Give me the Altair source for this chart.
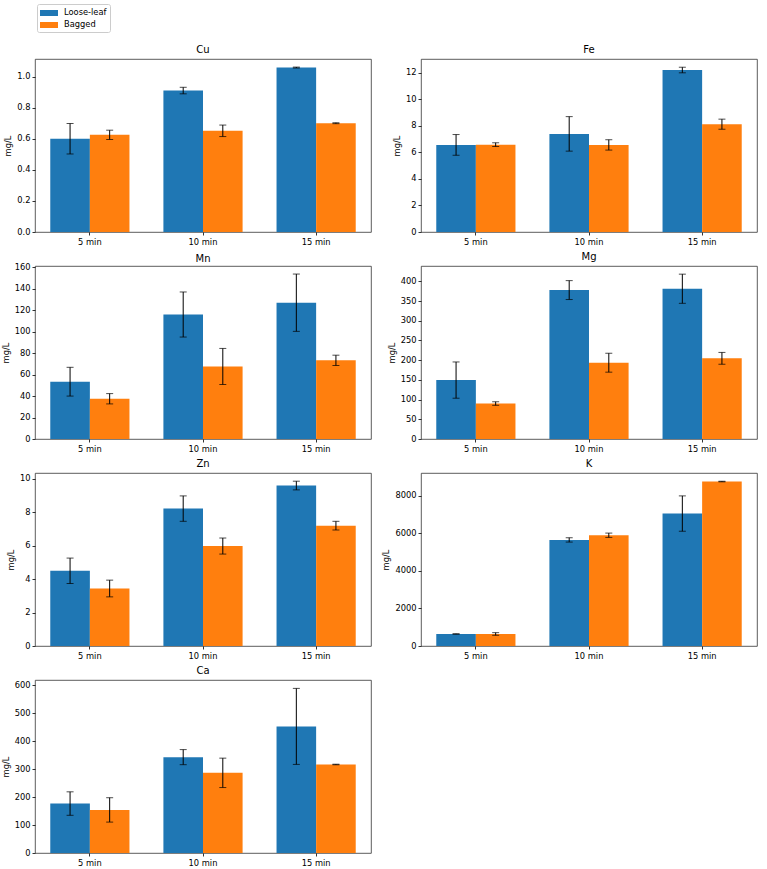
import altair as alt
import pandas as pd

# Steeping times on the x axis and the two tea formats
times = ["5 min", "10 min", "15 min"]
series = ["Loose-leaf", "Bagged"]
colors = ["#1f77b4", "#ff7f0e"]

# Mean concentrations (mg/L) and standard deviations, per element
cu_loose, cu_loose_sd = [0.60, 0.91, 1.058], [0.098, 0.021, 0.003]
cu_bag, cu_bag_sd = [0.625, 0.651, 0.700], [0.030, 0.037, 0.003]

fe_loose, fe_loose_sd = [6.56, 7.39, 12.20], [0.78, 1.30, 0.21]
fe_bag, fe_bag_sd = [6.58, 6.56, 8.12], [0.14, 0.39, 0.38]

mn_loose, mn_loose_sd = [53.4, 116.0, 127.0], [13.4, 21.0, 26.7]
mn_bag, mn_bag_sd = [37.5, 67.6, 73.3], [4.8, 16.8, 4.8]

mg_loose, mg_loose_sd = [149.5, 377.9, 381.3], [46.0, 24.0, 37.0]
mg_bag, mg_bag_sd = [90.0, 193.6, 204.7], [4.5, 24.0, 15.0]

zn_loose, zn_loose_sd = [4.50, 8.22, 9.60], [0.76, 0.76, 0.26]
zn_bag, zn_bag_sd = [3.44, 5.98, 7.20], [0.50, 0.48, 0.26]

k_loose, k_loose_sd = [640, 5641, 7042], [10, 115, 940]
k_bag, k_bag_sd = [640, 5889, 8745], [70, 115, 15]

ca_loose, ca_loose_sd = [176.9, 343.0, 453.0], [42.0, 27.0, 136.0]
ca_bag, ca_bag_sd = [154.2, 286.8, 316.7], [43.6, 52.6, 1.0]

# Panel name, data, y-axis upper limit, tick values, tick format
panels = [
    ("Cu", cu_loose, cu_loose_sd, cu_bag, cu_bag_sd, 1.113, [0, 0.2, 0.4, 0.6, 0.8, 1.0], ".1f"),
    ("Fe", fe_loose, fe_loose_sd, fe_bag, fe_bag_sd, 13.03, [0, 2, 4, 6, 8, 10, 12], "d"),
    ("Mn", mn_loose, mn_loose_sd, mn_bag, mn_bag_sd, 161.2, [0, 20, 40, 60, 80, 100, 120, 140, 160], "d"),
    ("Mg", mg_loose, mg_loose_sd, mg_bag, mg_bag_sd, 439.0, [0, 50, 100, 150, 200, 250, 300, 350, 400], "d"),
    ("Zn", zn_loose, zn_loose_sd, zn_bag, zn_bag_sd, 10.35, [0, 2, 4, 6, 8, 10], "d"),
    ("K", k_loose, k_loose_sd, k_bag, k_bag_sd, 9199, [0, 2000, 4000, 6000, 8000], "d"),
    ("Ca", ca_loose, ca_loose_sd, ca_bag, ca_bag_sd, 619.0, [0, 100, 200, 300, 400, 500, 600], "d"),
]

W, H = 336, 173
FONT = "DejaVu Sans"
# The Mn panel's top tick label reaches above the frame, which pushes its
# title up; pull it back down to sit level with the other titles.
TITLE_OFFSET = {"Mn": -2}


def make_panel(name, loose, loose_sd, bag, bag_sd, ymax, ticks, fmt, show_legend):
    rows = []
    for label, means, sds in (("Loose-leaf", loose, loose_sd), ("Bagged", bag, bag_sd)):
        for t, m, s in zip(times, means, sds):
            rows.append({"time": t, "type": label, "mean": m, "lo": m - s, "hi": m + s})
    df = pd.DataFrame(rows)

    yscale = alt.Scale(domain=[0, ymax], nice=False, zero=True)
    yaxis = alt.Axis(title="mg/L", values=ticks, format=fmt, labelOverlap=False)
    base = alt.Chart(df).encode(
        x=alt.X(
            "time:N",
            sort=times,
            scale=alt.Scale(paddingInner=0.3, paddingOuter=0.135),
            axis=alt.Axis(title=None, labelAngle=0),
        ),
        xOffset=alt.XOffset(
            "type:N", sort=series, scale=alt.Scale(paddingInner=0, paddingOuter=0)
        ),
    )

    legend = None
    if show_legend:
        legend = alt.Legend(
            title=None,
            orient="none",
            legendX=2,
            legendY=-55,
            symbolType="M-1,-0.5L2,-0.5L2,0.5L-1,0.5Z",
            symbolSize=144,
            symbolStrokeWidth=0,
            labelFontSize=8.3,
            labelFont=FONT,
            labelOffset=12,
            rowPadding=2,
            padding=3,
            strokeColor="#cccccc",
            fillColor="white",
            cornerRadius=2,
        )

    bars = base.mark_bar().encode(
        y=alt.Y("mean:Q", scale=yscale, axis=yaxis, title="mg/L"),
        color=alt.Color(
            "type:N",
            sort=series,
            scale=alt.Scale(domain=series, range=colors),
            legend=legend,
        ),
    )
    # Error bars: vertical whisker plus caps at both ends
    whisker = base.mark_rule(color="black", strokeWidth=1).encode(
        y=alt.Y("lo:Q", scale=yscale, axis=yaxis, title="mg/L"), y2="hi:Q"
    )
    cap_hi = base.mark_tick(color="black", size=7, thickness=1).encode(
        y=alt.Y("hi:Q", scale=yscale, axis=yaxis, title="mg/L")
    )
    cap_lo = base.mark_tick(color="black", size=7, thickness=1).encode(
        y=alt.Y("lo:Q", scale=yscale, axis=yaxis, title="mg/L")
    )
    return alt.layer(bars, whisker, cap_hi, cap_lo).properties(
        width=W,
        height=H,
        title=alt.TitleParams(
            name, fontSize=10, font=FONT, fontWeight="normal",
            offset=TITLE_OFFSET.get(name, 4),
        ),
    )


charts = [make_panel(*p, show_legend=(i == 0)) for i, p in enumerate(panels)]

chart = (
    alt.concat(*charts, columns=2, spacing={"row": 34, "column": 50}, bounds="flush")
    .properties(padding={"left": 0, "top": 3, "right": 5, "bottom": 0})
    .configure(font=FONT)
    .configure_view(stroke="#333333", strokeWidth=0.8)
    .configure_axis(
        grid=False,
        domain=False,
        labelFont=FONT,
        labelFontSize=8.3,
        labelColor="black",
        titleFont=FONT,
        titleFontSize=8.3,
        titleFontWeight="normal",
        titleColor="black",
        titlePadding=4,
        tickColor="black",
        tickSize=3,
        tickWidth=0.8,
        labelPadding=2,
    )
    .configure_title(color="black", anchor="middle")
)

chart.save("out.html", embed_options={"renderer": "svg", "actions": False})
